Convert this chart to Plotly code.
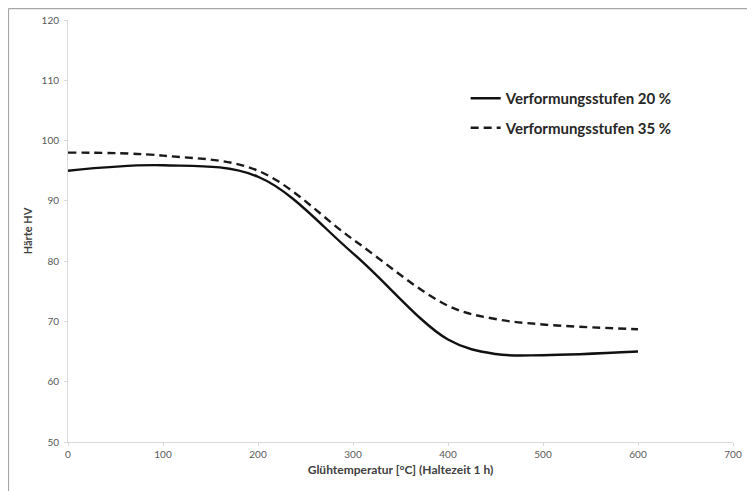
import plotly.graph_objects as go

# Glühtemperatur [°C] und Härte HV
temperatur = [0, 100, 200, 300, 400, 450, 500, 600]
haerte_20 = [95.0, 95.9, 94.0, 81.3, 67.0, 64.6, 64.4, 65.0]
haerte_35 = [98.0, 97.5, 95.0, 83.6, 72.6, 70.4, 69.5, 68.7]

x_ticks = [0, 100, 200, 300, 400, 500, 600, 700]
y_ticks = [50, 60, 70, 80, 90, 100, 110, 120]

fig = go.Figure()

fig.add_trace(go.Scatter(
    x=temperatur, y=haerte_20, mode="lines", name="Verformungsstufen 20 %",
    line=dict(color="#111111", width=2.4, shape="spline", smoothing=1.0),
    legendgroup="a",
))
fig.add_trace(go.Scatter(
    x=temperatur, y=haerte_35, mode="lines", name="Verformungsstufen 35 %",
    line=dict(color="#1a1a1a", width=2.4, dash="8px,5px", shape="spline", smoothing=1.0),
    legendgroup="b",
))

axis_common = dict(
    showgrid=False, zeroline=False, showline=True, linecolor="#d9d9d9", linewidth=1,
    ticks="outside", ticklen=3, tickcolor="#d9d9d9", automargin=False,
    tickfont=dict(family="Lato", size=10, color="#595959"),
)

fig.update_xaxes(
    range=[0, 700], tickvals=x_ticks,
    title=dict(text="Glühtemperatur [°C] (Haltezeit 1 h)",
               font=dict(family="Lato", size=12, color="#404040", weight="bold"), standoff=6),
    **axis_common,
)
fig.update_yaxes(
    range=[50, 120], tickvals=y_ticks, ticklabelstandoff=3,
    title=dict(text="Härte HV",
               font=dict(family="Lato", size=11, color="#404040", weight="bold"), standoff=6),
    **axis_common,
)

# Rahmen oben und links (rechts und unten im Bild abgeschnitten)
border = dict(type="line", xref="paper", yref="paper", line=dict(color="#a6a6a6", width=1.2))
fig.add_shape(x0=-0.0895, x1=-0.0895, y0=1.027, y1=-0.2, **border)
fig.add_shape(x0=-0.0895, x1=1.1, y0=1.027, y1=1.027, **border)

fig.update_layout(
    width=747, height=483,
    margin=dict(l=60, r=22, t=12, b=49),
    paper_bgcolor="white", plot_bgcolor="white",
    showlegend=True,
    legend=dict(
        x=0.598, y=0.853, xanchor="left", yanchor="top",
        font=dict(family="Lato", size=15, color="#262626", weight="bold"),
        bgcolor="rgba(0,0,0,0)", tracegroupgap=7, traceorder="grouped",
    ),
)

fig.write_html("out.html")
